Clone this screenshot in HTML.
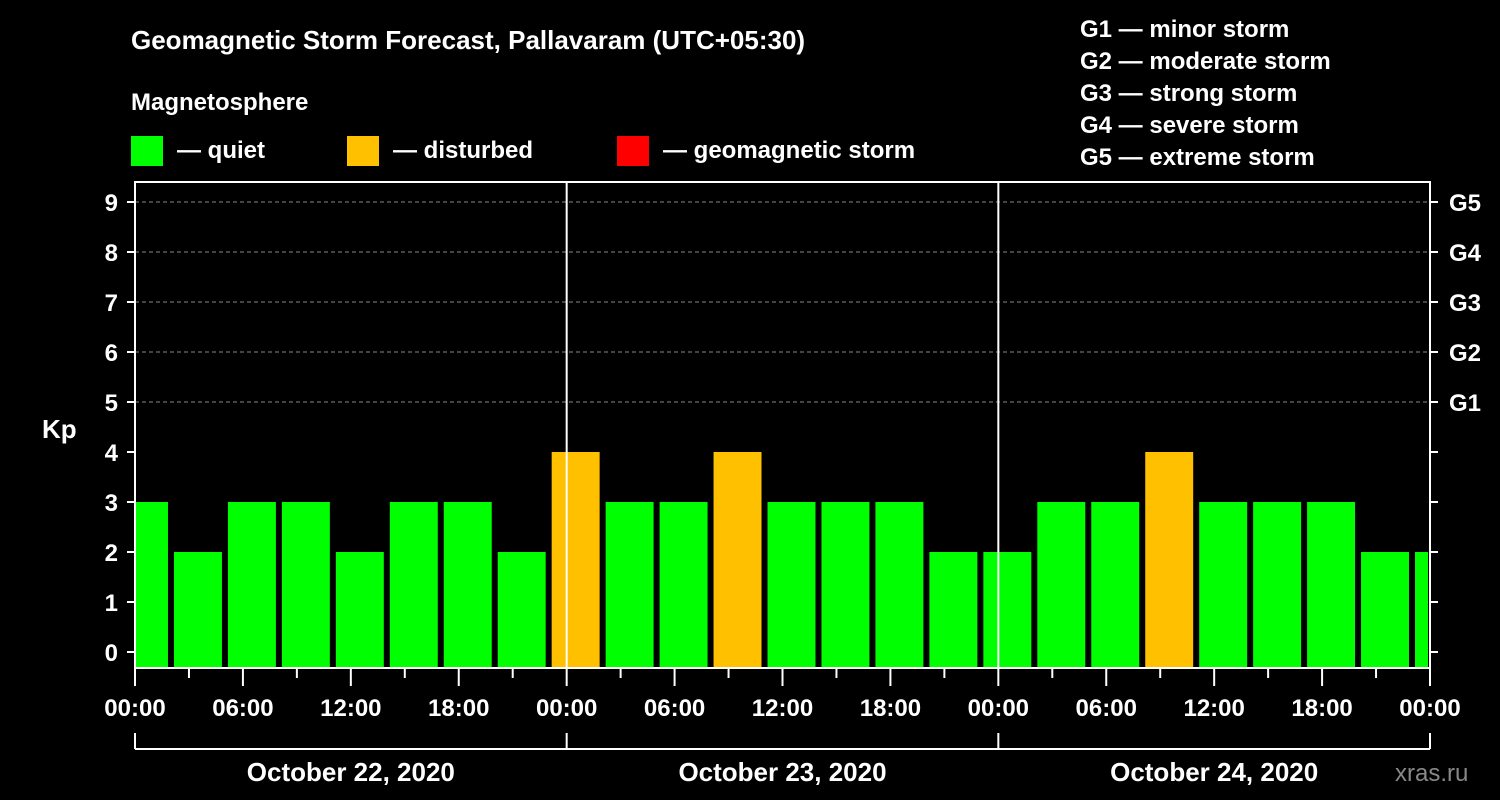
<!DOCTYPE html>
<html><head><meta charset="utf-8"><style>
body{margin:0;background:#000;}
svg{display:block;font-family:"Liberation Sans",Arial,sans-serif;font-weight:bold;}
</style></head><body>
<svg id="chart" width="1500" height="800" viewBox="0 0 1500 800">
<rect x="0" y="0" width="1500" height="800" fill="#000"/>
<text x="131" y="49" fill="#fff" font-size="26">Geomagnetic Storm Forecast, Pallavaram (UTC+05:30)</text>
<text x="131" y="110" fill="#fff" font-size="24">Magnetosphere</text>
<g><rect x="131" y="136" width="32" height="30" fill="#00ff00"/><text x="177" y="158" fill="#fff" font-size="24">— quiet</text></g>
<g><rect x="347" y="136" width="32" height="30" fill="#ffc000"/><text x="393" y="158" fill="#fff" font-size="24">— disturbed</text></g>
<g><rect x="617" y="136" width="32" height="30" fill="#ff0000"/><text x="663" y="158" fill="#fff" font-size="24">— geomagnetic storm</text></g>
<g fill="#fff" font-size="24">
<text x="1080" y="37">G1 — minor storm</text>
<text x="1080" y="69">G2 — moderate storm</text>
<text x="1080" y="101">G3 — strong storm</text>
<text x="1080" y="133">G4 — severe storm</text>
<text x="1080" y="165">G5 — extreme storm</text>
</g>
<text x="42" y="438" fill="#fff" font-size="26">Kp</text>
<text x="1395" y="781" fill="#888" font-size="24" font-weight="normal">xras.ru</text>
<g id="grid"></g><g id="bars"></g><g id="axes"></g>
</svg>
<script>
const kpValues=[3,2,3,3,2,3,3,2,4,3,3,4,3,3,3,2,2,3,3,4,3,3,3,2,2];
const binStartHours=[-1,2,5,8,11,14,17,20,23,26,29,32,35,38,41,44,47,50,53,56,59,62,65,68,71];
const kpTicks=[0,1,2,3,4,5,6,7,8,9];
const gLabels=["G1","G2","G3","G4","G5"];
const timeLabels=["00:00","06:00","12:00","18:00","00:00","06:00","12:00","18:00","00:00","06:00","12:00","18:00","00:00"];
const dateLabels=["October 22, 2020","October 23, 2020","October 24, 2020"];
const X0=135,X1=1430,YT=182,YB=668;
const x=h=>X0+h*(X1-X0)/72;
const y=k=>652-50*k;
const NS="http://www.w3.org/2000/svg";
function mk(p,t,a){const e=document.createElementNS(NS,t);for(const k in a)e.setAttribute(k,a[k]);document.getElementById(p).appendChild(e);return e;}
// grid
for(let k=5;k<=9;k++){const l=mk('grid','line',{x1:X0,x2:X1,y1:y(k),y2:y(k),stroke:'#888','stroke-dasharray':'4,3','stroke-width':1});

}
// bars
kpValues.forEach((v,i)=>{let a=x(binStartHours[i])+3,b=x(binStartHours[i]+3)-3;a=Math.max(a,X0+1);b=Math.min(b,X1-2);
const r=mk('bars','rect',{x:a,y:y(v),width:b-a,height:YB-1-y(v),fill:v>=5?'#ff0000':(v>=4?'#ffc000':'#00ff00')});

});
// frame and day separators
const fr=mk('axes','rect',{x:X0,y:YT,width:X1-X0,height:YB-YT,fill:'none',stroke:'#fff','stroke-width':2});


[24,48].forEach(h=>{const l=mk('axes','line',{x1:x(h),x2:x(h),y1:YT,y2:YB,stroke:'#fff','stroke-width':2});

});
// y ticks
kpTicks.forEach(k=>{mk('axes','line',{x1:X0-8,x2:X0,y1:y(k),y2:y(k),stroke:'#fff','stroke-width':2});
mk('axes','line',{x1:X1,x2:X1+8,y1:y(k),y2:y(k),stroke:'#fff','stroke-width':2});
const t=mk('axes','text',{x:X0-17,y:y(k)+9,fill:'#fff','font-size':24,'text-anchor':'end'});t.textContent=k;

});
gLabels.forEach((g,i)=>{const t=mk('axes','text',{x:1449,y:y(5+i)+9,fill:'#fff','font-size':24});t.textContent=g;

});
// x ticks
for(let h=0;h<=72;h+=3){mk('axes','line',{x1:x(h),x2:x(h),y1:YB,y2:h%6==0?686:678,stroke:'#fff','stroke-width':2});}
timeLabels.forEach((s,i)=>{const t=mk('axes','text',{x:x(i*6),y:716,fill:'#fff','font-size':24,'text-anchor':'middle'});t.textContent=s;

});
// date bracket
mk('axes','line',{x1:X0,x2:X1,y1:749,y2:749,stroke:'#fff','stroke-width':2});
[0,24,48,72].forEach(h=>mk('axes','line',{x1:x(h),x2:x(h),y1:733,y2:749,stroke:'#fff','stroke-width':2}));
dateLabels.forEach((s,i)=>{const t=mk('axes','text',{x:x(i*24+12),y:781,fill:'#fff','font-size':26,'text-anchor':'middle'});t.textContent=s;

});
</script>
</body></html>
